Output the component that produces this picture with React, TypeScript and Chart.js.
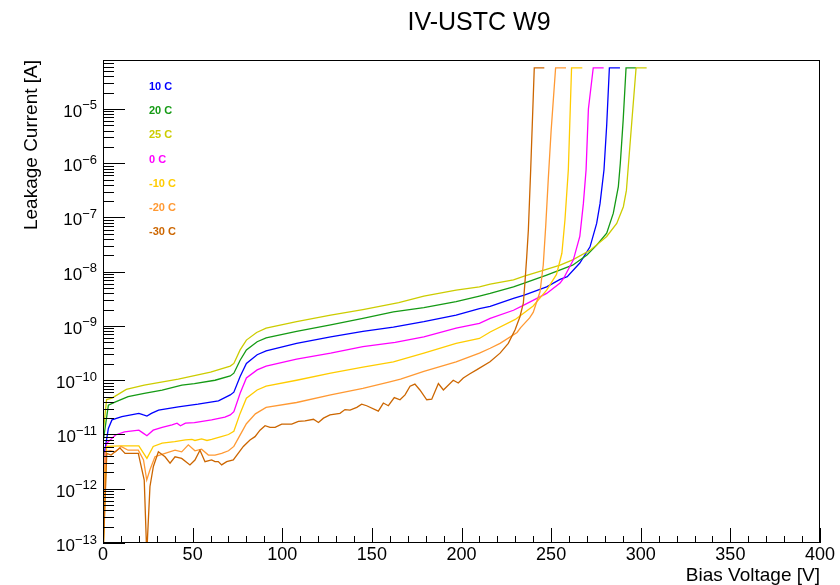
import React, { useEffect, useRef } from 'react';
import { Chart, registerables } from 'chart.js';

Chart.register(...registerables);

const W = 840;
const H = 585;
const FONT = "'Liberation Sans', Arial, Helvetica, sans-serif";

const TITLE = 'IV-USTC W9';
const X_TITLE = 'Bias Voltage [V]';
const Y_TITLE = 'Leakage Current [A]';
const X_TICKS = [0, 50, 100, 150, 200, 250, 300, 350, 400];
const Y_DECADES = [-13, -12, -11, -10, -9, -8, -7, -6, -5];

// 10 C
const V_10C = [0, 3, 5, 10.5, 20, 22.6, 24.5, 27, 31, 42, 53, 64.4, 71, 73, 76.5, 80, 86, 91, 108, 127, 145, 162, 179, 197, 210, 216, 229, 235, 247.5, 255, 259, 266, 271.7, 275.4, 277.3, 279.5, 281, 282.5, 288.4];
const I_10C = [3.16e-12, 1.29e-11, 1.86e-11, 2.14e-11, 2.45e-11, 2.29e-11, 2.19e-11, 2.45e-11, 2.82e-11, 3.24e-11, 3.63e-11, 4.17e-11, 5.37e-11, 6.03e-11, 1.17e-10, 2.04e-10, 2.95e-10, 3.47e-10, 4.79e-10, 6.31e-10, 7.94e-10, 9.55e-10, 1.2e-9, 1.58e-9, 2.09e-9, 2.29e-9, 3.24e-9, 3.72e-9, 5.25e-9, 7.24e-9, 8.13e-9, 1.45e-8, 2.88e-8, 7.76e-8, 1.82e-7, 7.59e-7, 5.0e-6, 5.75e-5, 5.75e-5];

// 20 C
const V_20C = [0, 3, 7, 14, 23, 33, 44, 51, 62.5, 71, 73, 76.5, 80, 86, 91, 108, 127, 145, 162, 179, 197, 210, 216, 229, 235, 247.5, 262, 270, 275.4, 281, 284.7, 287.5, 288.6, 290.2, 291.8, 297.4];
const I_20C = [7.1e-12, 3.47e-11, 3.98e-11, 5.0e-11, 5.75e-11, 6.6e-11, 8.1e-11, 8.7e-11, 1.0e-10, 1.2e-10, 1.35e-10, 2.34e-10, 3.63e-10, 5.13e-10, 6.03e-10, 7.94e-10, 1.05e-9, 1.38e-9, 1.82e-9, 2.19e-9, 2.82e-9, 3.55e-9, 3.98e-9, 5.25e-9, 6.17e-9, 8.7e-9, 1.32e-8, 2.04e-8, 3.09e-8, 5.13e-8, 1.2e-7, 3.72e-7, 1.0e-6, 6.3e-6, 5.75e-5, 5.75e-5];

// 25 C
const V_25C = [0, 2, 5, 13, 23, 42, 60, 71, 73, 76.5, 80, 85.7, 91, 108, 127, 145, 165, 179, 197, 210, 216, 229, 235, 246, 255, 262, 272, 281, 286.6, 290.3, 292, 295, 297.4, 303.3];
const I_25C = [1.0e-11, 4.4e-11, 4.7e-11, 6.8e-11, 8.1e-11, 1.05e-10, 1.41e-10, 1.82e-10, 2.04e-10, 3.63e-10, 5.5e-10, 7.6e-10, 9.1e-10, 1.2e-9, 1.58e-9, 2.0e-9, 2.69e-9, 3.55e-9, 4.57e-9, 5.25e-9, 5.89e-9, 7.08e-9, 8.3e-9, 1.07e-8, 1.32e-8, 1.66e-8, 2.51e-8, 4.47e-8, 7.76e-8, 1.58e-7, 3.16e-7, 5.75e-6, 5.75e-5, 5.75e-5];

// 0 C
const V_0C = [0, 2, 7, 12, 20, 22.6, 24.5, 28, 33, 38.5, 41.3, 43.2, 46, 51, 60.6, 68, 71, 73, 76.5, 80, 86, 91, 108, 127, 145, 163, 179, 197, 210, 216, 229, 235, 247.5, 255, 257, 262.4, 266, 268, 269.5, 270.8, 273.5, 279.3];
const I_0C = [9.1e-13, 6.9e-12, 9.8e-12, 1.12e-11, 1.2e-11, 1.05e-11, 9.5e-12, 1.2e-11, 1.35e-11, 1.51e-11, 1.62e-11, 1.45e-11, 1.62e-11, 1.66e-11, 1.86e-11, 2.09e-11, 2.29e-11, 2.63e-11, 5.75e-11, 1.1e-10, 1.55e-10, 1.82e-10, 2.45e-10, 3.16e-10, 4.17e-10, 5.01e-10, 6.31e-10, 9.12e-10, 1.12e-9, 1.38e-9, 1.95e-9, 2.45e-9, 3.98e-9, 6.17e-9, 7.59e-9, 1.66e-8, 4.47e-8, 1.82e-7, 7.59e-7, 1.0e-5, 5.75e-5, 5.75e-5];

// -10 C
const V_M10C = [0, 2, 10.4, 20, 24.5, 28, 33, 40, 46, 49.6, 51.3, 55, 58, 60.6, 66, 70, 73, 76.5, 80, 86, 91, 108, 127, 145, 162, 179, 197, 210, 216, 230, 240, 247.5, 253, 256, 257.7, 259.6, 261.4, 267.4];
const I_M10C = [5e-14, 6.03e-12, 6.17e-12, 6.17e-12, 3.63e-12, 6.03e-12, 6.92e-12, 7.41e-12, 7.94e-12, 8.13e-12, 7.76e-12, 8.32e-12, 7.76e-12, 8.13e-12, 9.12e-12, 1.0e-11, 1.15e-11, 2.45e-11, 4.68e-11, 6.61e-11, 7.76e-11, 1.0e-10, 1.35e-10, 1.74e-10, 2.19e-10, 3.16e-10, 4.79e-10, 5.89e-10, 7.76e-10, 1.32e-9, 2.34e-9, 4.57e-9, 8.91e-9, 2.19e-8, 8.91e-8, 7.59e-7, 5.75e-5, 5.75e-5];

// -20 C
const V_M20C = [0, 1.1, 4, 7, 10, 14, 19.7, 22.6, 24.4, 26.2, 29, 34.6, 40.2, 43.9, 47.6, 51.3, 55, 58.8, 62.5, 66.2, 70, 73, 77, 80, 85, 91, 108, 127, 145, 160, 166, 179, 197, 210, 216, 221.5, 231, 233, 238, 240, 243.8, 245.6, 247, 248.4, 250, 252.5, 258.3];
const I_M20C = [5e-14, 4.79e-12, 5.01e-12, 4.79e-12, 6.03e-12, 5.13e-12, 5.13e-12, 3.39e-12, 1.45e-12, 2.24e-12, 3.89e-12, 4.47e-12, 5.13e-12, 4.79e-12, 6.46e-12, 5.01e-12, 5.37e-12, 4.17e-12, 4.17e-12, 4.47e-12, 5.01e-12, 6.03e-12, 1.05e-11, 1.58e-11, 2.4e-11, 3.16e-11, 3.89e-11, 5.37e-11, 7.08e-11, 9.33e-11, 1.05e-10, 1.45e-10, 2.19e-10, 3.16e-10, 3.89e-10, 4.79e-10, 7.59e-10, 9.33e-10, 1.41e-9, 1.78e-9, 4.27e-9, 1.32e-8, 7.08e-8, 5.01e-7, 3.98e-6, 5.75e-5, 5.75e-5];

// -30 C
const V_M30C = [0, 2.1, 4.5, 6.7, 9.5, 12.3, 19.7, 23, 24.4, 26.2, 28.1, 30.9, 34.6, 37.4, 40.2, 43.9, 48.5, 51.3, 54.1, 56.9, 60.6, 62.5, 64.3, 66.2, 69, 72.7, 78.3, 82, 84.8, 87.6, 90.4, 93.2, 96, 99.7, 105.3, 109, 112.7, 117.4, 120.2, 123, 126.6, 132.2, 135, 137.8, 141.6, 144.3, 147.1, 153.6, 156.4, 159.2, 162.5, 165.7, 168.5, 171.3, 174, 176.8, 180.6, 183.4, 187.1, 189.9, 195.4, 198.2, 201, 204.7, 208.4, 215.9, 221.5, 226.1, 229.9, 232.6, 234.5, 235.5, 236.4, 237.3, 238.6, 240.6, 246.2];
const I_M30C = [5e-14, 4.47e-12, 4.17e-12, 4.79e-12, 5.62e-12, 4.47e-12, 4.47e-12, 1.45e-12, 6.3e-14, 1.1e-12, 2.57e-12, 4.79e-12, 3.89e-12, 2.95e-12, 3.89e-12, 3.63e-12, 2.75e-12, 3.39e-12, 5.13e-12, 3.16e-12, 3.39e-12, 3.16e-12, 3.16e-12, 2.75e-12, 3.16e-12, 3.39e-12, 6.03e-12, 7.94e-12, 9.12e-12, 1.2e-11, 1.45e-11, 1.35e-11, 1.35e-11, 1.55e-11, 1.55e-11, 1.74e-11, 1.78e-11, 1.91e-11, 1.66e-11, 2.0e-11, 2.29e-11, 2.45e-11, 2.88e-11, 2.82e-11, 3.16e-11, 3.63e-11, 3.39e-11, 2.69e-11, 3.8e-11, 3.39e-11, 4.79e-11, 4.37e-11, 5.37e-11, 7.76e-11, 8.51e-11, 6.61e-11, 4.37e-11, 4.47e-11, 8.71e-11, 6.61e-11, 1.0e-10, 8.91e-11, 1.1e-10, 1.32e-10, 1.55e-10, 2.19e-10, 3.16e-10, 4.79e-10, 8.51e-10, 1.48e-9, 2.63e-9, 7.08e-9, 1.91e-8, 5.89e-8, 7.59e-7, 5.75e-5, 5.75e-5];

const SERIES_LABELS = ['10 C', '20 C', '25 C', '0 C', '-10 C', '-20 C', '-30 C'];
const SERIES_COLORS = ['#0000ff', '#149a14', '#cccc00', '#ff00ff', '#ffcc00', '#ff9933', '#cc6600'];
const SERIES_V = [V_10C, V_20C, V_25C, V_0C, V_M10C, V_M20C, V_M30C];
const SERIES_I = [I_10C, I_20C, I_25C, I_0C, I_M10C, I_M20C, I_M30C];

const overlay = {
  id: 'rootStyle',
  afterDraw(chart: any) {
    const ctx = chart.ctx as CanvasRenderingContext2D;
    const area = chart.chartArea;
    const xs = chart.scales.x;
    const ys = chart.scales.y;
    ctx.save();
    ctx.strokeStyle = '#000';
    ctx.fillStyle = '#000';
    ctx.lineWidth = 1;

    // frame
    ctx.strokeRect(Math.round(area.left) + 0.5, Math.round(area.top) + 0.5, Math.round(area.right - area.left) - 1, Math.round(area.bottom - area.top) - 1);

    // x ticks
    ctx.beginPath();
    for (let v = 0; v <= 400; v += 10) {
      const px = Math.round(xs.getPixelForValue(v)) + 0.5;
      const len = v % 50 === 0 ? 15 : 7;
      ctx.moveTo(px, area.bottom);
      ctx.lineTo(px, area.bottom - len);
    }
    // y ticks
    for (const d of Y_DECADES.concat([-4])) {
      for (let m = 1; m <= 9; m++) {
        const val = m * Math.pow(10, d);
        if (val > ys.max * 1.0000001 || val < ys.min * 0.9999999) continue;
        const py = Math.round(ys.getPixelForValue(val)) + 0.5;
        const len = m === 1 ? 22 : 11;
        ctx.moveTo(area.left, py);
        ctx.lineTo(area.left + len, py);
      }
    }
    ctx.stroke();

    // x tick labels
    ctx.font = `18px ${FONT}`;
    ctx.textAlign = 'center';
    ctx.textBaseline = 'alphabetic';
    for (const v of X_TICKS) {
      ctx.fillText(String(v), xs.getPixelForValue(v), 560);
    }

    // y tick labels 10^n
    for (const d of Y_DECADES) {
      const py = ys.getPixelForValue(Math.pow(10, d));
      const expText = '\u2212' + String(Math.abs(d));
      ctx.font = `13px ${FONT}`;
      const expW = ctx.measureText(expText).width;
      ctx.font = `17px ${FONT}`;
      const baseW = ctx.measureText('10').width;
      const right = 97;
      ctx.textAlign = 'left';
      ctx.fillText('10', right - expW - baseW, py + 8);
      ctx.font = `13px ${FONT}`;
      ctx.fillText(expText, right - expW, py + 0.5);
    }

    // axis titles
    ctx.font = `19px ${FONT}`;
    ctx.textAlign = 'right';
    ctx.fillText(X_TITLE, area.right, 581);
    ctx.save();
    ctx.translate(37, area.top);
    ctx.rotate(-Math.PI / 2);
    ctx.textAlign = 'right';
    ctx.fillText(Y_TITLE, 0, 0);
    ctx.restore();

    // title
    ctx.font = `25px ${FONT}`;
    ctx.textAlign = 'center';
    ctx.fillText(TITLE, 479, 30);

    // legend texts
    ctx.font = `bold 11px ${FONT}`;
    ctx.textAlign = 'left';
    ctx.textBaseline = 'middle';
    SERIES_LABELS.forEach((lab, k) => {
      ctx.fillStyle = SERIES_COLORS[k];
      ctx.fillText(lab, 149, 87 + k * 24.2);
    });
    ctx.restore();
  },
};

export default function App() {
  const ref = useRef<HTMLCanvasElement>(null);

  useEffect(() => {
    const canvas = ref.current;
    if (!canvas) return;
    const datasets = SERIES_LABELS.map((label, k) => ({
      label,
      data: SERIES_V[k].map((x, j) => ({ x, y: SERIES_I[k][j] })),
      borderColor: SERIES_COLORS[k],
      backgroundColor: SERIES_COLORS[k],
      borderWidth: 1.3,
      pointRadius: 0,
      tension: 0,
      fill: false,
      order: SERIES_LABELS.length - k,
    }));
    const chart = new Chart(canvas, {
      type: 'line',
      data: { datasets },
      options: {
        responsive: false,
        animation: false,
        devicePixelRatio: 1,
        parsing: false as any,
        layout: { padding: { top: 60, right: 20, left: 0, bottom: 0 } },
        plugins: {
          legend: { display: false },
          tooltip: { enabled: false },
          title: { display: false },
        },
        scales: {
          x: {
            type: 'linear',
            min: 0,
            max: 400,
            bounds: 'data',
            grid: { display: false },
            border: { display: false },
            ticks: { display: false },
            afterFit: (s: any) => {
              s.height = 42;
            },
          },
          y: {
            type: 'logarithmic',
            min: 1e-13,
            max: 8e-5,
            bounds: 'data',
            grid: { display: false },
            border: { display: false },
            ticks: { display: false },
            afterFit: (s: any) => {
              s.width = 103;
            },
          },
        },
      } as any,
      plugins: [overlay],
    });
    return () => chart.destroy();
  }, []);

  return (
    <div style={{ position: 'fixed', left: 0, top: 0, width: W, height: H, background: '#fff' }}>
      <canvas ref={ref} width={W} height={H} style={{ display: 'block', width: W, height: H }} />
    </div>
  );
}
